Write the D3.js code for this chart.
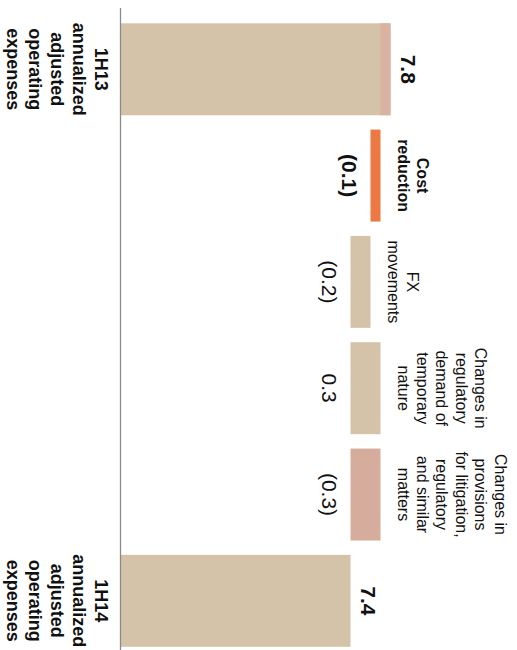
<!DOCTYPE html>
<html>
<head>
<meta charset="utf-8">
<script src="https://cdn.jsdelivr.net/npm/d3@7"></script>
<style>
  html, body { margin: 0; padding: 0; background: #fff; }
  svg { display: block; }
  text { font-family: "Liberation Sans", Arial, Helvetica, sans-serif; fill: #111; }
</style>
</head>
<body>
<svg id="chart" width="517" height="650"></svg>
<script>
// Operating expense bridge, EUR bn
const categoryLines = [
  ["1H13", "annualized", "adjusted", "operating", "expenses"],
  ["Cost", "reduction"],
  ["FX", "movements"],
  ["Changes in", "regulatory", "demand of", "temporary", "nature"],
  ["Changes in", "provisions", "for litigation,", "regulatory", "and similar", "matters"],
  ["1H14", "annualized", "adjusted", "operating", "expenses"]
];
const values = [7.8, -0.1, -0.2, 0.3, -0.3, 7.4];
const kinds = ["total", "change", "change", "change", "change", "total"];
const valueLabels = ["7.8", "(0.1)", "(0.2)", "0.3", "(0.3)", "7.4"];
// share of the opening base attributable to the cost programme
const openingHighlight = [0.1];

const W = 517, H = 650;
const svg = d3.select("#chart");

// The bridge is laid out as an upright column chart in a 650 x 517 frame,
// then turned a quarter clockwise so it reads top to bottom.
const g = svg.append("g").attr("transform", `translate(${W},0) rotate(90)`);

const keys = categoryLines.map((d, i) => "c" + i);
const x = d3.scaleBand().domain(keys).range([23.3, 646.8]).paddingInner(0.135).paddingOuter(0);
const y = d3.scaleLinear().domain([5.1, 8.0]).range([396.5, 106.5]);

const fillOf = d3.scaleOrdinal()
  .domain(keys)
  .range(["#d5c3a9", "#ec7843", "#d5c3a9", "#d5c3a9", "#d6ad9c", "#d5c3a9"]);

// Bridge steps are chained back from the closing total.
const bars = values.map((v, i) => ({ key: keys[i], i, v, kind: kinds[i] }));
let level = values[values.length - 1];
for (let i = values.length - 2; i >= 1; i--) {
  const end = level, start = level - values[i];
  bars[i].lo = Math.min(start, end);
  bars[i].hi = Math.max(start, end);
  level = start;
}
bars.forEach(b => { if (b.kind === "total") { b.lo = y.domain()[0]; b.hi = b.v; } });

g.selectAll("rect.bar")
  .data(bars)
  .join("rect")
  .attr("class", "bar")
  .attr("x", d => x(d.key))
  .attr("width", x.bandwidth())
  .attr("y", d => y(d.hi))
  .attr("height", d => y(d.lo) - y(d.hi))
  .attr("fill", d => fillOf(d.key));

// cost-programme slice at the top of the opening bar
g.append("rect")
  .attr("x", x(keys[0]))
  .attr("width", x.bandwidth())
  .attr("y", y(values[0]))
  .attr("height", y(values[0] - openingHighlight[0]) - y(values[0]))
  .attr("fill", "#d9b2a2");

// baseline
g.append("line")
  .attr("x1", 8).attr("x2", H)
  .attr("y1", y.range()[0]).attr("y2", y.range()[0])
  .attr("stroke", "#8a8a8a").attr("stroke-width", 1.3);

// value labels
g.selectAll("text.value")
  .data(bars)
  .join("text")
  .attr("class", "value")
  .attr("text-anchor", "middle")
  .attr("x", d => x(d.key) + x.bandwidth() / 2)
  .attr("y", d => d.kind === "total" ? y(d.hi) - 10 : y(d.lo) + 29)
  .attr("font-size", 21)
  .attr("font-weight", d => (d.kind === "total" || d.i === 1) ? "bold" : "normal")
  .text(d => valueLabels[d.i]);

// category labels: totals under the baseline, steps above their bars
const labelGroups = g.selectAll("text.cat")
  .data(bars)
  .join("text")
  .attr("class", "cat")
  .attr("text-anchor", "middle")
  .attr("font-size", d => d.kind === "total" ? 18 : 16)
  .attr("font-weight", d => (d.kind === "total" || d.i === 1) ? "bold" : "normal");

labelGroups.each(function (d) {
  const lines = categoryLines[d.i];
  const lh = d.kind === "total" ? 22 : 19.4;
  const first = d.kind === "total"
    ? y.range()[0] + 26
    : y(d.hi) - 17 - (lines.length - 1) * lh;
  const cx = x(d.key) + x.bandwidth() / 2;
  d3.select(this).selectAll("tspan")
    .data(lines)
    .join("tspan")
    .attr("x", cx)
    .attr("y", (t, j) => first + j * lh)
    .text(t => t);
});
</script>
</body>
</html>
